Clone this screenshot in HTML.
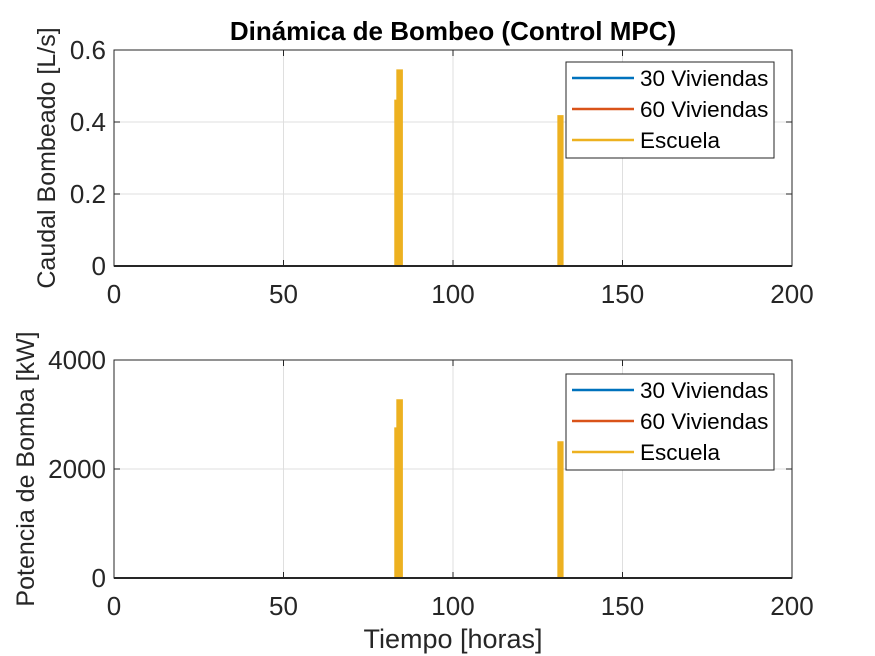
<!DOCTYPE html>
<html><head><meta charset="utf-8"><style>
body{margin:0;background:#fff;}
svg{display:block;font-family:"Liberation Sans",Arial,sans-serif;}
</style></head><body>
<svg id="c" width="875" height="656" viewBox="0 0 875 656"></svg>
<script>
const tTicks=[0,50,100,150,200];
const qTicks=[0,0.2,0.4,0.6];
const pTicks=[0,2000,4000];
const seriesNames=["30 Viviendas","60 Viviendas","Escuela"];
const seriesColors=["#0072BD","#D95319","#EDB120"];
const time=[0,82.9,82.9,83.5,83.5,85,85,131,131,132.4,132.4,200];
const q30=[0,0,0,0,0,0,0,0,0,0,0,0];
const q60=[0,0,0,0,0,0,0,0,0,0,0,0];
const qEsc=[0,0,0.46,0.46,0.544,0.544,0,0,0.417,0.417,0,0];
const p30=[0,0,0,0,0,0,0,0,0,0,0,0];
const p60=[0,0,0,0,0,0,0,0,0,0,0,0];
const pEsc=[0,0,2750,2750,3266,3266,0,0,2495,2495,0,0];

const svg=document.getElementById('c');
const NS="http://www.w3.org/2000/svg";
function mk(tag,at,parent){const e=document.createElementNS(NS,tag);for(const k in at)e.setAttribute(k,at[k]);(parent||svg).appendChild(e);return e;}
function panel(name,top,bot,yMax,yTicks,ys,ylabel,fmt,legTop,ylx){
  const L=114,R=792;
  const X=v=>L+(v-0)/(200-0)*(R-L);
  const Y=v=>bot-(v/yMax)*(bot-top);
  const g=mk('g',{});
  
  
  mk('rect',{x:L,y:top,width:R-L,height:bot-top,fill:'#fff'},g);
  tTicks.forEach(v=>{const l=mk('line',{x1:X(v),x2:X(v),y1:top,y2:bot,stroke:'#dfdfdf','stroke-width':1},g);});
  yTicks.forEach(v=>{const l=mk('line',{x1:L,x2:R,y1:Y(v),y2:Y(v),stroke:'#dfdfdf','stroke-width':1},g);});
  ys.forEach((arr,i)=>{
    const p=mk('polygon',{points:arr.map((v,j)=>X(time[j])+','+Y(v)).join(' '),fill:seriesColors[i],stroke:seriesColors[i],'stroke-width':1.5},g);
    
    
  });
  mk('rect',{x:L,y:top,width:R-L,height:bot-top,fill:'none',stroke:'#262626','stroke-width':1},g);
  mk('line',{x1:L,x2:R,y1:bot,y2:bot,stroke:'#262626','stroke-width':2},g);
  tTicks.forEach(v=>{mk('line',{x1:X(v),x2:X(v),y1:bot,y2:bot-6,stroke:'#262626'},g);mk('line',{x1:X(v),x2:X(v),y1:top,y2:top+6,stroke:'#262626'},g);
    const t=mk('text',{x:X(v),y:bot+37,'text-anchor':'middle','font-size':26,fill:'#262626'},g);t.textContent=v;
    });
  yTicks.forEach(v=>{mk('line',{x1:L,x2:L+6,y1:Y(v),y2:Y(v),stroke:'#262626'},g);mk('line',{x1:R,x2:R-6,y1:Y(v),y2:Y(v),stroke:'#262626'},g);
    const t=mk('text',{x:L-8,y:Y(v)+9,'text-anchor':'end','font-size':26,fill:'#262626'},g);t.textContent=fmt(v);
    });
  const yl=mk('text',{x:0,y:0,transform:`translate(${ylx},${(top+bot)/2}) rotate(-90)`,'text-anchor':'middle','font-size':25,fill:'#262626'},g);
  yl.textContent=ylabel;
  const lg=mk('g',{},g);
  
  
  mk('rect',{x:566,y:legTop,width:208,height:96,fill:'#fff',stroke:'#262626'},lg);
  seriesNames.forEach((n,i)=>{
    const yy=legTop+16+i*31;
    mk('line',{x1:572,x2:634,y1:yy,y2:yy,stroke:seriesColors[i],'stroke-width':2.5},lg);
    const t=mk('text',{x:640,y:yy+8,'font-size':22.5,fill:'#000'},lg);t.textContent=n;
    
  });
}
panel('flow',50,266,0.6,qTicks,[q30,q60,qEsc],'Caudal Bombeado [L/s]',v=>v===0?'0':v.toFixed(1),62,55);
panel('power',360,578,4000,pTicks,[p30,p60,pEsc],'Potencia de Bomba [kW]',v=>String(v),374,34);
const title=mk('text',{x:453,y:40,'text-anchor':'middle','font-size':26,'font-weight':'bold',fill:'#000'});
title.textContent='Dinámica de Bombeo (Control MPC)';


const xl=mk('text',{x:453,y:648,'text-anchor':'middle','font-size':27,fill:'#262626'});
xl.textContent='Tiempo [horas]';


</script>
</body></html>
